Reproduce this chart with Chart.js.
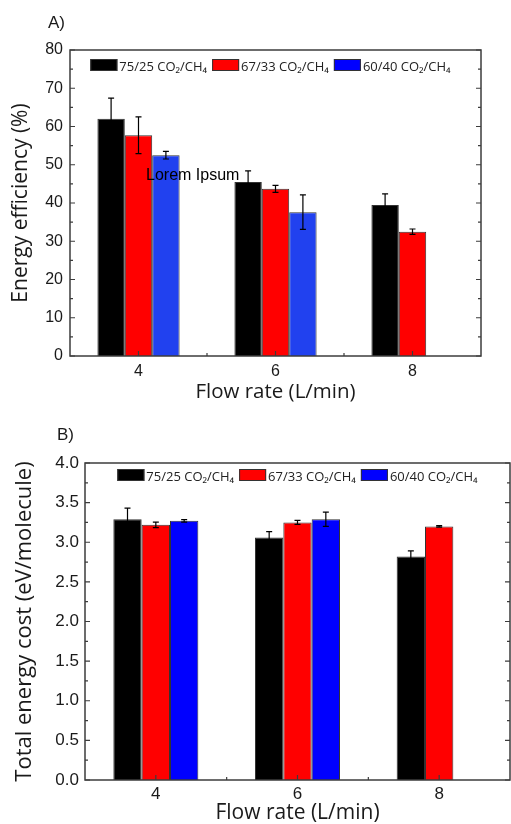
<!DOCTYPE html>
<html>
<head>
<meta charset="utf-8">
<title>Energy efficiency and energy cost vs flow rate</title>
<script src="https://cdn.jsdelivr.net/npm/chart.js@4.4.0/dist/chart.umd.min.js"></script>
<style>
  html, body { margin: 0; padding: 0; background: #fff; }
  #wrap { position: relative; width: 511px; height: 824px; overflow: hidden; }
  #chartA { position: absolute; left: 0; top: 0; }
  #chartB { position: absolute; left: 0; top: 400px; }
</style>
</head>
<body>
<div id="wrap">
  <canvas id="chartA" width="511" height="404"></canvas>
  <canvas id="chartB" width="511" height="424"></canvas>
</div>
<script>
// categories + series names
const flowRates = ['4', '6', '8'];
const gasRatios = ['75/25 CO₂/CH₄', '67/33 CO₂/CH₄', '60/40 CO₂/CH₄'];

// A) energy efficiency (%), with error bars
const eff75 = [62.0, 45.5, 39.5];
const eff75Err = [5.4, 2.9, 2.9];
const eff67 = [57.7, 43.7, 32.5];
const eff67Err = [4.8, 0.9, 0.7];
const eff60 = [52.5, 37.6, null];
const eff60Err = [1.0, 4.5, null];
const effTicks = { min: 0, max: 80, step: 10 };

// B) total energy cost (eV/molecule), with error bars
const cost75 = [3.29, 3.06, 2.82];
const cost75Err = [0.14, 0.075, 0.07];
const cost67 = [3.22, 3.25, 3.20];
const cost67Err = [0.035, 0.025, 0.01];
const cost60 = [3.27, 3.29, null];
const cost60Err = [0.015, 0.09, null];
const costTicks = { min: 0, max: 4, step: 0.5 };

const TICK_FONT = '"Liberation Sans", Arial, sans-serif';
const TEXT_FONT = '"Open Sans", "Noto Sans", sans-serif';
const INK = '#1a1a1a';

// frame with inward ticks, error bars, legend, panel letter and note
const figureExtras = {
    id: 'figureExtras',
    afterDatasetsDraw(chart, args, opts) {
        const ctx = chart.ctx;
        const a = chart.chartArea;
        const xs = chart.scales.x;
        const ys = chart.scales.y;

        // error bars
        ctx.save();
        ctx.strokeStyle = '#000';
        ctx.lineWidth = 1.2;
        chart.data.datasets.forEach(function(ds, di) {
            const meta = chart.getDatasetMeta(di);
            const errs = opts.errors[di];
            meta.data.forEach(function(bar, i) {
                const v = ds.data[i];
                if (v === null || errs[i] === null) return;
                const top = ys.getPixelForValue(v + errs[i]);
                const bot = ys.getPixelForValue(v - errs[i]);
                ctx.beginPath();
                ctx.moveTo(bar.x, top); ctx.lineTo(bar.x, bot);
                ctx.moveTo(bar.x - 3, top); ctx.lineTo(bar.x + 3, top);
                ctx.moveTo(bar.x - 3, bot); ctx.lineTo(bar.x + 3, bot);
                ctx.stroke();
            });
        });
        ctx.restore();

        // note text
        if (opts.note) {
            ctx.save();
            ctx.fillStyle = '#000';
            ctx.font = '16px ' + TICK_FONT;
            ctx.textBaseline = 'alphabetic';
            ctx.fillText(opts.note.text, a.left + opts.note.dx, a.top + opts.note.dy);
            ctx.restore();
        }

        // frame + ticks
        ctx.save();
        ctx.strokeStyle = '#3c3c3c';
        ctx.lineWidth = 1.5;
        ctx.strokeRect(a.left, a.top, a.right - a.left, a.bottom - a.top);
        ctx.lineWidth = 1.2;
        ctx.beginPath();
        const yt = ys.ticks;
        yt.forEach(function(tk, i) {
            const py = ys.getPixelForValue(tk.value);
            ctx.moveTo(a.left, py); ctx.lineTo(a.left + 5, py);
            ctx.moveTo(a.right, py); ctx.lineTo(a.right - 5, py);
            if (i < yt.length - 1) {
                const pm = ys.getPixelForValue((tk.value + yt[i + 1].value) / 2);
                ctx.moveTo(a.left, pm); ctx.lineTo(a.left + 3, pm);
                ctx.moveTo(a.right, pm); ctx.lineTo(a.right - 3, pm);
            }
        });
        for (let i = 0; i < xs.ticks.length; i++) {
            const px = xs.getPixelForTick(i);
            ctx.moveTo(px, a.bottom); ctx.lineTo(px, a.bottom - 5);
            if (i < xs.ticks.length - 1) {
                const pm = (px + xs.getPixelForTick(i + 1)) / 2;
                ctx.moveTo(pm, a.bottom); ctx.lineTo(pm, a.bottom - 3);
            }
        }
        ctx.stroke();
        ctx.restore();

        // legend inside the frame
        ctx.save();
        ctx.font = '13px ' + TEXT_FONT;
        const boxW = 27, boxH = 12, gap = 2, space = 5;
        const items = chart.data.datasets.map(function(ds) {
            return { label: ds.label, color: ds.legendColor || ds.backgroundColor, w: ctx.measureText(ds.label).width };
        });
        let total = 0;
        items.forEach(function(it) { total += boxW + gap + it.w; });
        total += space * (items.length - 1);
        let lx = (a.left + a.right) / 2 - total / 2 + opts.legendShift;
        const ly = a.top + opts.legendTop;
        items.forEach(function(it) {
            ctx.fillStyle = it.color;
            ctx.fillRect(lx, ly, boxW, boxH);
            ctx.strokeStyle = '#333';
            ctx.lineWidth = 1;
            ctx.strokeRect(lx + 0.5, ly + 0.5, boxW - 1, boxH - 1);
            ctx.fillStyle = '#222';
            ctx.textBaseline = 'alphabetic';
            ctx.fillText(it.label, lx + boxW + gap, ly + boxH);
            lx += boxW + gap + it.w + space;
        });
        ctx.restore();

        // panel letter
        ctx.save();
        ctx.fillStyle = INK;
        ctx.font = '17px ' + TICK_FONT;
        ctx.fillText(opts.panel.text, opts.panel.x, opts.panel.y);
        ctx.restore();
    }
};

function barSet(label, data, color, legendColor) {
    return {
        label: label,
        data: data,
        backgroundColor: color,
        legendColor: legendColor,
        borderColor: '#333',
        borderWidth: 1,
        barPercentage: 1.0,
        categoryPercentage: 0.6
    };
}

function makeChart(canvasId, cfg) {
    return new Chart(document.getElementById(canvasId), {
        type: 'bar',
        data: {
            labels: flowRates,
            datasets: cfg.datasets
        },
        plugins: [figureExtras],
        options: {
            responsive: false,
            animation: false,
            devicePixelRatio: 1,
            events: [],
            layout: { padding: cfg.padding },
            plugins: {
                legend: { display: false },
                tooltip: { enabled: false },
                figureExtras: cfg.extras
            },
            scales: {
                x: {
                    grid: { display: false, drawTicks: false },
                    border: { display: false },
                    ticks: { font: { family: TICK_FONT, size: cfg.tickSize }, color: INK, padding: cfg.xTickPad },
                    title: {
                        display: true,
                        text: 'Flow rate (L/min)',
                        color: INK,
                        font: { family: TEXT_FONT, size: cfg.xTitleSize, lineHeight: 1.2 },
                        padding: { top: 0, bottom: cfg.xTitlePad }
                    },
                    afterFit: function(s) { s.height = cfg.xHeight; }
                },
                y: {
                    min: cfg.ticks.min,
                    max: cfg.ticks.max,
                    grid: { display: false, drawTicks: false },
                    border: { display: false },
                    ticks: {
                        stepSize: cfg.ticks.step,
                        font: { family: TICK_FONT, size: cfg.tickSize },
                        color: INK,
                        padding: cfg.yTickPad,
                        callback: cfg.tickFormat
                    },
                    title: {
                        display: true,
                        text: cfg.yTitle,
                        color: INK,
                        font: { family: TEXT_FONT, size: cfg.yTitleSize, lineHeight: 1.2 },
                        padding: { top: cfg.yTitlePad, bottom: 0 }
                    },
                    afterFit: function(s) { s.width = cfg.yWidth; }
                }
            }
        }
    });
}

document.addEventListener('DOMContentLoaded', function() {
    makeChart('chartA', {
        datasets: [
            barSet(gasRatios[0], eff75, '#000000', '#000000'),
            barSet(gasRatios[1], eff67, '#ff0000', '#ff0000'),
            barSet(gasRatios[2], eff60, '#2141ef', '#0000ff')
        ],
        ticks: effTicks,
        tickFormat: function(v) { return v; },
        padding: { left: 0, top: 50, right: 30, bottom: 0 },
        yWidth: 70,
        xHeight: 48,
        tickSize: 16,
        xTitleSize: 20.5,
        yTitleSize: 21,
        xTitlePad: 0,
        xTickPad: 6,
        yTickPad: 7,
        yTitlePad: 8,
        yTitle: 'Energy efficiency (%)',
        extras: {
            errors: [eff75Err, eff67Err, eff60Err],
            legendTop: 9,
            legendShift: -5,
            panel: { text: 'A)', x: 48, y: 28 },
            note: { text: 'Lorem Ipsum', dx: 76, dy: 130 }
        }
    });

    makeChart('chartB', {
        datasets: [
            barSet(gasRatios[0], cost75, '#000000', '#000000'),
            barSet(gasRatios[1], cost67, '#ff0000', '#ff0000'),
            barSet(gasRatios[2], cost60, '#0000ff', '#0000ff')
        ],
        ticks: costTicks,
        tickFormat: function(v) { return v.toFixed(1); },
        padding: { left: 0, top: 63, right: 1, bottom: 0 },
        yWidth: 85,
        xHeight: 44,
        tickSize: 17,
        xTitleSize: 21,
        yTitleSize: 22,
        xTitlePad: -2,
        xTickPad: 4,
        yTickPad: 6,
        yTitlePad: 12,
        yTitle: 'Total energy cost (eV/molecule)',
        extras: {
            errors: [cost75Err, cost67Err, cost60Err],
            legendTop: 6,
            legendShift: 0,
            panel: { text: 'B)', x: 57, y: 40 },
            note: null
        }
    });
});
</script>
</body>
</html>
